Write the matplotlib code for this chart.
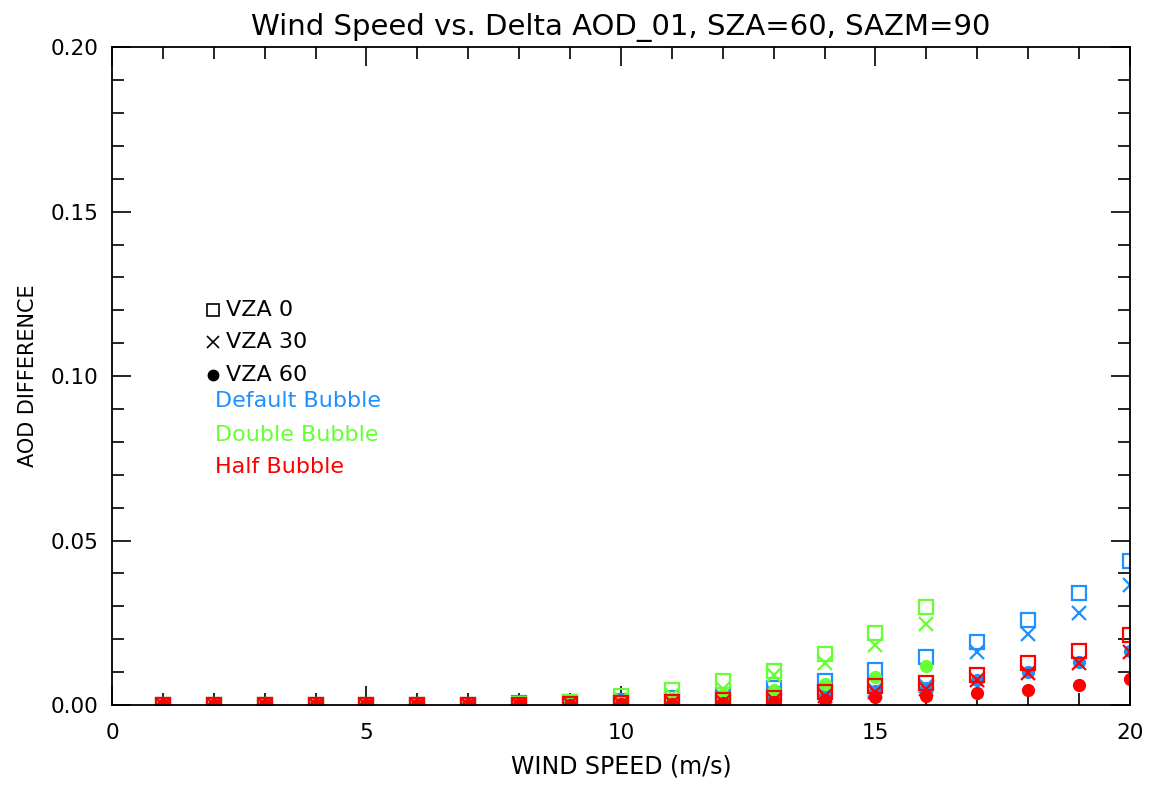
import numpy as np
import matplotlib
matplotlib.use('Agg')
import matplotlib.pyplot as plt
from matplotlib.ticker import MultipleLocator, FormatStrFormatter

# wind speed (m/s)
wind = np.arange(1, 21)
nan = np.nan

# Default bubble
default_vza0 = [0, 0, 0, 0, 0, 0, 0, 0.0006, 0.001, 0.0012, 0.002, 0.0032, 0.0052,
                0.0072, 0.0108, 0.0146, 0.0191, 0.0258, 0.034, 0.0438]
default_vza30 = [0, 0, 0, 0, 0, 0, 0, 0.0004, 0.0007, 0.001, 0.0015, 0.0024, 0.0036,
                 0.0038, 0.0046, 0.0058, 0.0161, 0.0216, 0.028, 0.0365]
default_vza60 = [0, 0, 0, 0, 0, 0, 0, 0.0003, 0.0005, 0.0007, 0.0008, 0.0012, 0.002,
                 0.003, 0.0042, 0.0052, 0.0076, 0.0100, 0.013, 0.0164]

# Double bubble (no values past 16 m/s)
double_vza0 = [0, 0, 0, 0, 0, 0, 0, 0.0003, 0.0008, 0.0026, 0.0047, 0.0072, 0.0105,
               0.0155, 0.0219, 0.0298, nan, nan, nan, nan]
double_vza30 = [0, 0, 0, 0, 0, 0, 0, 0.0002, 0.0006, 0.0018, 0.003, 0.005, 0.009,
                0.0128, 0.0182, 0.0246, nan, nan, nan, nan]
double_vza60 = [0, 0, 0, 0, 0, 0, 0, 0.0001, 0.0003, 0.001, 0.0018, 0.003, 0.0045,
                0.0064, 0.0085, 0.0119, nan, nan, nan, nan]

# Half bubble
half_vza0 = [0, 0, 0, 0, 0, 0, 0, 0.0001, 0.0003, 0.0005, 0.0008, 0.0015, 0.002,
             0.004, 0.0058, 0.0067, 0.0091, 0.0128, 0.0164, 0.0213]
half_vza30 = [0, 0, 0, 0, 0, 0, 0, 0.0001, 0.0002, 0.0004, 0.0006, 0.001, 0.0016,
              0.0026, 0.004, 0.005, 0.0076, 0.0098, 0.0128, 0.016]
half_vza60 = [0, 0, 0, 0, 0, 0, 0, 0, 0.0001, 0.0002, 0.0003, 0.0005, 0.0009,
              0.0015, 0.0024, 0.0027, 0.0036, 0.0046, 0.0061, 0.0079]

blue = '#1E90FF'
green = '#66FF33'
red = '#FF0000'

fig = plt.figure(figsize=(11.51, 7.86), dpi=100)
ax = fig.add_axes([0.0973, 0.103, 0.8844, 0.837])

groups = [
    (blue, default_vza0, default_vza30, default_vza60),
    (green, double_vza0, double_vza30, double_vza60),
    (red, half_vza0, half_vza30, half_vza60),
]
for col, v0, v30, v60 in groups:
    ax.plot(wind, v0, ls='none', marker='s', ms=9.5, mfc='none', mec=col, mew=1.6)
    ax.plot(wind, v30, ls='none', marker='x', ms=9.5, mec=col, mew=1.6)
    ax.plot(wind, v60, ls='none', marker='o', ms=8.5, mfc=col, mec=col)

ax.set_xlim(0, 20)
ax.set_ylim(0, 0.20)
ax.xaxis.set_major_locator(MultipleLocator(5))
ax.xaxis.set_minor_locator(MultipleLocator(1))
ax.yaxis.set_major_locator(MultipleLocator(0.05))
ax.yaxis.set_minor_locator(MultipleLocator(0.01))
ax.yaxis.set_major_formatter(FormatStrFormatter('%.2f'))
ax.tick_params(which='both', direction='in', top=True, right=True, width=1.2)
ax.tick_params(which='major', length=14)
ax.tick_params(which='minor', length=8.5)
ax.tick_params(axis='x', which='major', pad=13, labelsize=15.5)
ax.tick_params(axis='y', which='major', pad=10, labelsize=15.5)
for s in ax.spines.values():
    s.set_linewidth(1.3)

ax.set_title('Wind Speed vs. Delta AOD_01, SZA=60, SAZM=90', fontsize=21, pad=9)
ax.set_xlabel('WIND SPEED (m/s)', fontsize=17, labelpad=8)
ax.set_ylabel('AOD DIFFERENCE', fontsize=15, labelpad=9)

# legend drawn as text and symbols
ax.plot([0.0992], [0.600], transform=ax.transAxes, marker='s', ms=8.5, mfc='none',
        mec='black', mew=1.2, clip_on=False)
ax.plot([0.0992], [0.552], transform=ax.transAxes, marker='x', ms=8.5, mec='black',
        mew=1.2, clip_on=False)
ax.plot([0.0992], [0.5015], transform=ax.transAxes, marker='o', ms=7.5, mfc='black',
        mec='black', clip_on=False)
ax.text(0.112, 0.600, 'VZA 0', transform=ax.transAxes, fontsize=16, va='center')
ax.text(0.112, 0.552, 'VZA 30', transform=ax.transAxes, fontsize=16, va='center')
ax.text(0.112, 0.5015, 'VZA 60', transform=ax.transAxes, fontsize=16, va='center')
ax.text(0.101, 0.462, 'Default Bubble', transform=ax.transAxes, fontsize=16,
        va='center', color=blue)
ax.text(0.101, 0.410, 'Double Bubble', transform=ax.transAxes, fontsize=16,
        va='center', color=green)
ax.text(0.101, 0.362, 'Half Bubble', transform=ax.transAxes, fontsize=16,
        va='center', color=red)

fig.savefig('out.png', dpi=100)
